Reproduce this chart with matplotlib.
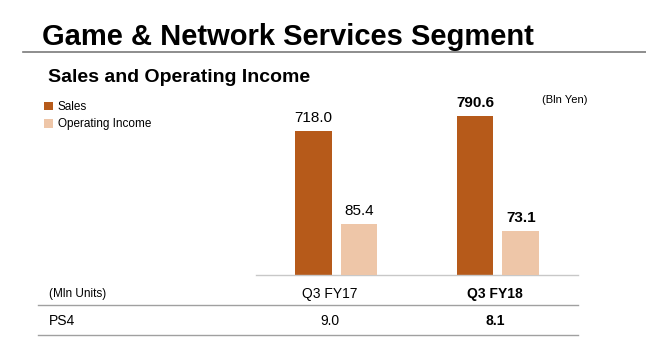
import numpy as np
import matplotlib.pyplot as plt
from matplotlib.lines import Line2D

plt.rcParams['font.family'] = ['Liberation Sans', 'DejaVu Sans']

# data
periods = ['Q3 FY17', 'Q3 FY18']
sales = [718.0, 790.6]
op_income = [85.4, 73.1]
ps4_units = [9.0, 8.1]
bold_col = [False, True]

sales_color = '#B65A1A'
oi_color = '#EEC6A8'

W, H = 646, 362
fig = plt.figure(figsize=(W/100, H/100), dpi=100)

def fx(px):
    return px / W

def fy(py):
    return 1 - py / H

# bar axes (pixel box 256..578 x 95..275)
ax = fig.add_axes([fx(256), fy(275), fx(578) - fx(256), fy(95) - fy(275)])
ax2 = ax.twinx()
x = np.arange(len(periods))
w = 0.226
off = 0.141
b1 = ax.bar(x - off, sales, w, color=sales_color, label='Sales')
b2 = ax2.bar(x + off, op_income, w, color=oi_color, label='Operating Income')
ax.set_xlim(-0.496, 1.495)
ax.set_ylim(0, 894.6)
ax2.set_ylim(0, 300.8)

for a in (ax, ax2):
    for s in ['top', 'right', 'left']:
        a.spines[s].set_visible(False)
    a.set_yticks([])
    a.set_xticks([])
ax2.spines['bottom'].set_visible(False)
ax.spines['bottom'].set_color('#c8c8c8')
ax.spines['bottom'].set_linewidth(1.0)

for i in range(len(periods)):
    fw = 'bold' if bold_col[i] else 'normal'
    ax.annotate(f'{sales[i]:.1f}', (x[i] - off, sales[i]), xytext=(0, 6.5),
                textcoords='offset points', ha='center', va='baseline',
                fontsize=11, fontweight=fw)
    ax2.annotate(f'{op_income[i]:.1f}', (x[i] + off, op_income[i]), xytext=(0, 6.5),
                 textcoords='offset points', ha='center', va='baseline',
                 fontsize=11, fontweight=fw)

# titles
fig.text(fx(42), fy(45), 'Game & Network Services Segment', fontsize=21,
         fontweight='bold', va='baseline', ha='left')
fig.add_artist(Line2D([fx(23), fx(646)], [fy(52), fy(52)], color='#7a7a7a', lw=1.2))
fig.text(fx(48), fy(82), 'Sales and Operating Income', fontsize=14,
         fontweight='bold', va='baseline', ha='left')
fig.text(fx(565), fy(100), '(Bln Yen)', fontsize=8, ha='center', va='center')

fig.legend(handles=[b1, b2], loc='upper left', bbox_to_anchor=(fx(44), fy(101)),
           frameon=False, fontsize=8.5, handlelength=0.75, handleheight=0.75,
           handletextpad=0.4, labelspacing=0.45, borderpad=0, borderaxespad=0)

# units table
col_x = [330, 495]
fig.text(fx(49), fy(294), '(Mln Units)', fontsize=8.5, va='center', ha='left')
fig.text(fx(49), fy(321), 'PS4', fontsize=10, va='center', ha='left')
for i, p in enumerate(periods):
    fw = 'bold' if bold_col[i] else 'normal'
    fig.text(fx(col_x[i]), fy(294), p, fontsize=10, fontweight=fw, ha='center', va='center')
    fig.text(fx(col_x[i]), fy(321), f'{ps4_units[i]:.1f}', fontsize=10, fontweight=fw,
             ha='center', va='center')
for yy in (305, 335):
    fig.add_artist(Line2D([fx(38), fx(578)], [fy(yy), fy(yy)], color='#a0a0a0', lw=1.0))

fig.savefig('out.png', dpi=100)
